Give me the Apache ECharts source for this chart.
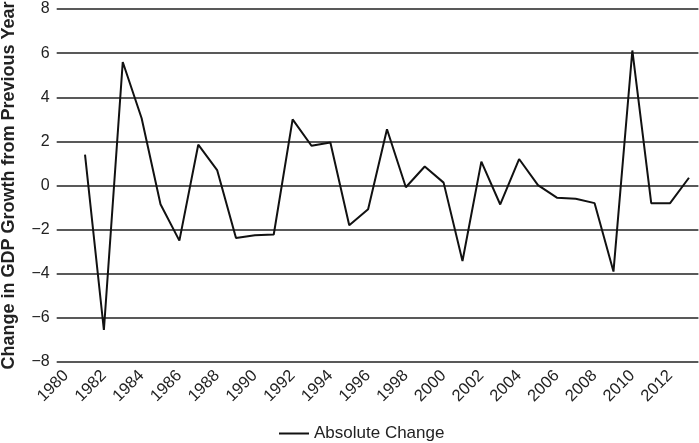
<!DOCTYPE html>
<html><head><meta charset="utf-8">
<script src="https://cdn.jsdelivr.net/npm/echarts@6/dist/echarts.min.js"></script>
<style>html,body{margin:0;padding:0;background:#fff}#c{width:699px;height:443px}</style>
</head><body><div id="c"></div>
<script>
var years = ['1980','1981','1982','1983','1984','1985','1986','1987','1988','1989','1990','1991','1992','1993','1994','1995','1996','1997','1998','1999','2000','2001','2002','2003','2004','2005','2006','2007','2008','2009','2010','2011','2012','2013'];
var absoluteChange = [null,1.4,-6.55,5.6,3.05,-0.85,-2.5,1.85,0.7,-2.38,-2.25,-2.22,3.0,1.8,1.95,-1.8,-1.08,2.55,-0.08,0.86,0.13,-3.42,1.08,-0.86,1.2,0.02,-0.55,-0.6,-0.8,-3.9,6.12,-0.8,-0.8,0.35];
var yTicks = {min:-8, max:8, step:2};
var seriesName = 'Absolute Change';
var yTitle = 'Change in GDP Growth from Previous Year';

var chart = echarts.init(document.getElementById('c'), null, {renderer:'canvas'});
var font = 'Liberation Sans, Arial, Helvetica, sans-serif';
chart.setOption({
  animation:false,
  backgroundColor:'#fff',
  grid:{left:56.7, right:0.6, top:9, bottom:81, containLabel:false, outerBoundsMode:'none'},
  legend:{left:274, top:420, itemWidth:30, itemHeight:2, itemGap:6,
    icon:'rect',
    textStyle:{fontFamily:font, fontSize:17, color:'#222'},
    data:[{name:seriesName, icon:'rect'}]},
  xAxis:{type:'category', data:years, boundaryGap:true,
    axisLine:{show:false}, axisTick:{show:false},
    axisLabel:{interval:1, rotate:45, fontFamily:font, fontSize:16.5, color:'#222', margin:11}},
  yAxis:{type:'value', min:yTicks.min, max:yTicks.max, interval:yTicks.step,
    name:yTitle, nameLocation:'middle', nameGap:39,
    nameTextStyle:{fontFamily:font, fontSize:18, fontWeight:'bold', color:'#222'},
    axisLine:{show:false}, axisTick:{show:false},
    axisLabel:{fontFamily:font, fontSize:16, color:'#222', margin:7,
      formatter:function(v){return v<0?'\u2212'+Math.abs(v):String(v);}},
    splitLine:{lineStyle:{color:'#222', width:1.6}}},
  series:[{name:seriesName, type:'line', data:absoluteChange, symbol:'none',
    connectNulls:false, lineStyle:{color:'#111', width:2}, itemStyle:{color:'#111'}}]
});
</script></body></html>
